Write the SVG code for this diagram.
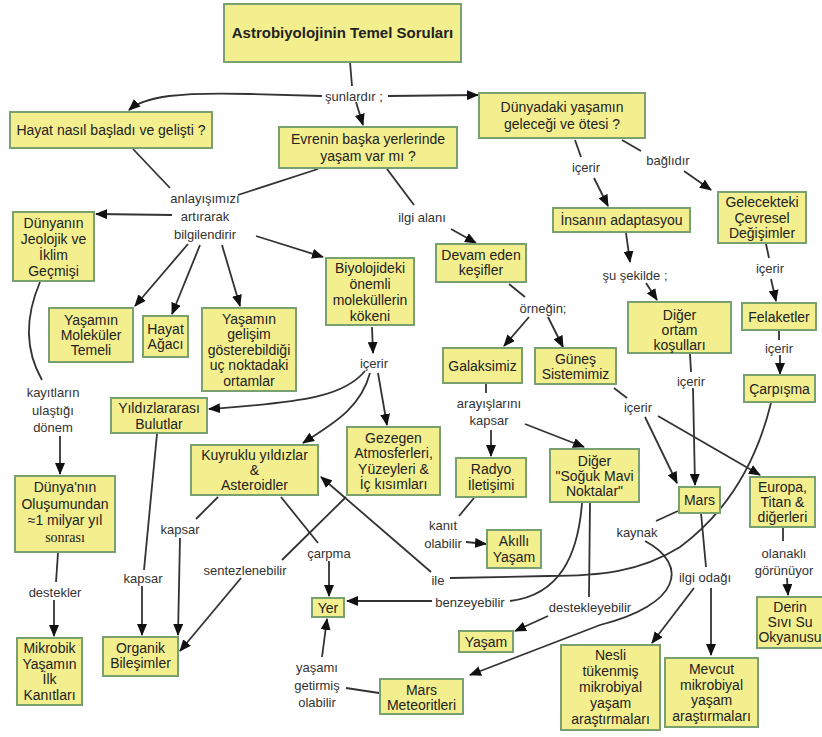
<svg xmlns="http://www.w3.org/2000/svg" width="822" height="737" viewBox="0 0 822 737">
<defs>
<marker id="ah" viewBox="0 0 12 10" refX="11" refY="5" markerWidth="12" markerHeight="10" orient="auto" markerUnits="userSpaceOnUse"><path d="M0,0 L12,5 L0,10 z" fill="#111"/></marker>
<style>
.n rect{fill:#f4ef8e;stroke:#79a06f;stroke-width:2}
.n text{font-family:"Liberation Sans",Arial,sans-serif;font-size:14px;fill:#222;text-anchor:middle}
.lb text{font-family:"Liberation Sans",Arial,sans-serif;font-size:13px;fill:#333;text-anchor:middle}
.c path{fill:none;stroke:#333;stroke-width:1.8}
.c path.a{marker-end:url(#ah)}
</style>
</defs>
<rect width="822" height="737" fill="#fff"/>
<g class="c">
<path d="M350,62 L352,86"/>
<path class="a" d="M322,96 L250,94 C180,92 145,96 129,110"/>
<path class="a" d="M388,96 L478,95"/>
<path class="a" d="M356,102 L363,125"/>
<path d="M133,149 L170,188"/>
<path d="M318,169 L238,195"/>
<path d="M387,169 L414,205"/>
<path class="a" d="M451,229 L476,243"/>
<path class="a" d="M172,215 L96,214"/>
<path class="a" d="M256,236 L323,257"/>
<path class="a" d="M188,244 L135,306"/>
<path class="a" d="M200,245 L172,314"/>
<path class="a" d="M222,245 L240,306"/>
<path d="M40,282 C28,310 22,345 42,380"/>
<path class="a" d="M60,436 L60,474"/>
<path d="M58,553 L56,582"/>
<path class="a" d="M54,600 L54,636"/>
<path class="a" d="M372,327 L373,353"/>
<path class="a" d="M365,371 C345,395 310,402 209,409"/>
<path class="a" d="M370,373 C360,410 330,425 303,443"/>
<path class="a" d="M378,373 L387,425"/>
<path d="M157,434 L144,570"/>
<path class="a" d="M142,586 L142,635"/>
<path d="M218,497 L196,519"/>
<path class="a" d="M180,538 L178,635"/>
<path d="M346,497 L282,560"/>
<path class="a" d="M241,578 L180,651"/>
<path d="M281,497 L318,543"/>
<path class="a" d="M329,561 L329,596"/>
<path class="a" d="M431,572 L321,477"/>
<path d="M771,403 C757,460 730,510 680,547 C640,572 600,576 548,576 L450,578"/>
<path d="M582,503 C578,555 560,595 510,601"/>
<path class="a" d="M432,601 L347,601"/>
<path d="M590,503 L589,597"/>
<path class="a" d="M548,616 L515,631"/>
<path d="M678,511 L656,521"/>
<path class="a" d="M645,541 C690,565 680,605 600,625 L470,675"/>
<path d="M701,513 L706,567"/>
<path class="a" d="M694,588 L652,643"/>
<path class="a" d="M711,588 L711,655"/>
<path d="M783,528 L783,541"/>
<path class="a" d="M787,578 L788,595"/>
<path class="a" d="M658,416 L760,475"/>
<path class="a" d="M645,417 L677,483"/>
<path d="M614,388 L627,398"/>
<path d="M690,354 L691,372"/>
<path class="a" d="M693,388 L695,485"/>
<path d="M779,331 L779,340"/>
<path class="a" d="M780,355 L780,374"/>
<path d="M766,244 L769,258"/>
<path class="a" d="M771,279 L776,301"/>
<path d="M622,140 L641,151"/>
<path class="a" d="M684,171 L711,190"/>
<path d="M575,140 L581,157"/>
<path class="a" d="M594,178 L608,206"/>
<path class="a" d="M626,233 L630,262"/>
<path class="a" d="M646,283 L657,300"/>
<path d="M509,284 L525,297"/>
<path class="a" d="M529,317 L504,346"/>
<path class="a" d="M548,317 L563,347"/>
<path d="M486,384 L486,393"/>
<path class="a" d="M491,430 L491,456"/>
<path class="a" d="M525,424 L584,447"/>
<path d="M474,498 L459,516"/>
<path class="a" d="M466,542 L486,544"/>
<path d="M379,693 L346,688"/>
<path class="a" d="M322,657 L327,619"/>
</g>
<g class="lb">
<text x="354" y="101">şunlardır ;</text>
<text x="205" y="203">anlayışımızı</text>
<text x="205" y="221">artırarak</text>
<text x="205" y="239">bilgilendirir</text>
<text x="422" y="222">ilgi alanı</text>
<text x="586" y="172">içerir</text>
<text x="668" y="165">bağlıdır</text>
<text x="635" y="280">şu şekilde ;</text>
<text x="770" y="273">içerir</text>
<text x="779" y="353">içerir</text>
<text x="543" y="313">örneğin;</text>
<text x="374" y="368">içerir</text>
<text x="691" y="386">içerir</text>
<text x="638" y="412">içerir</text>
<text x="489" y="408">arayışlarını</text>
<text x="489" y="425">kapsar</text>
<text x="53" y="397">kayıtların</text>
<text x="53" y="415">ulaştığı</text>
<text x="53" y="432">dönem</text>
<text x="180" y="534">kapsar</text>
<text x="143" y="583">kapsar</text>
<text x="245" y="575">sentezlenebilir</text>
<text x="329" y="558">çarpma</text>
<text x="55" y="597">destekler</text>
<text x="443" y="530">kanıt</text>
<text x="443" y="548">olabilir</text>
<text x="637" y="537">kaynak</text>
<text x="784" y="558">olanaklı</text>
<text x="784" y="575">görünüyor</text>
<text x="705" y="582">ilgi odağı</text>
<text x="590" y="612">destekleyebilir</text>
<text x="438" y="585">ile</text>
<text x="470" y="607">benzeyebilir</text>
<text x="317" y="672">yaşamı</text>
<text x="317" y="690">getirmiş</text>
<text x="317" y="707">olabilir</text>
</g>
<g id="n1" class="n"><rect x="224" y="4" width="237" height="58"/><text x="342.5" y="38" style="font-weight:bold;font-size:15px">Astrobiyolojinin Temel Soruları</text></g>
<g id="n2" class="n"><rect x="10" y="112" width="202" height="36"/><text x="111" y="135">Hayat nasıl başladı ve gelişti ?</text></g>
<g id="n3" class="n"><rect x="279" y="127" width="178" height="41"/><text x="368" y="144">Evrenin başka yerlerinde</text><text x="368" y="161">yaşam var mı ?</text></g>
<g id="n4" class="n"><rect x="479" y="93" width="166" height="45"/><text x="562" y="112">Dünyadaki yaşamın</text><text x="562" y="129">geleceği ve ötesi ?</text></g>
<g id="n5" class="n"><rect x="13" y="212" width="81" height="69"/><text x="53.5" y="227.5">Dünyanın</text><text x="53.5" y="243.5">Jeolojik ve</text><text x="53.5" y="259.5">İklim</text><text x="53.5" y="275.5">Geçmişi</text></g>
<g id="n6" class="n"><rect x="49" y="308" width="84" height="54"/><text x="91" y="325">Yaşamın</text><text x="91" y="340">Moleküler</text><text x="91" y="355">Temeli</text></g>
<g id="n7" class="n"><rect x="143" y="316" width="45" height="41"/><text x="165.5" y="334">Hayat</text><text x="165.5" y="349">Ağacı</text></g>
<g id="n8" class="n"><rect x="202" y="308" width="94" height="83"/><text x="249" y="323.5">Yaşamın</text><text x="249" y="339">gelişim</text><text x="249" y="354.5">gösterebildiği</text><text x="249" y="370">uç noktadaki</text><text x="249" y="385.5">ortamlar</text></g>
<g id="n9" class="n"><rect x="326" y="258" width="88" height="67"/><text x="370" y="272.5">Biyolojideki</text><text x="370" y="288.5">önemli</text><text x="370" y="304.5">moleküllerin</text><text x="370" y="320.5">kökeni</text></g>
<g id="n10" class="n"><rect x="436" y="244" width="90" height="38"/><text x="481" y="260">Devam eden</text><text x="481" y="275">keşifler</text></g>
<g id="n11" class="n"><rect x="553" y="208" width="137" height="24"/><text x="621.5" y="225">İnsanın adaptasyou</text></g>
<g id="n12" class="n"><rect x="718" y="192" width="88" height="51"/><text x="762" y="207">Gelecekteki</text><text x="762" y="222.5">Çevresel</text><text x="762" y="238">Değişimler</text></g>
<g id="n13" class="n"><rect x="628" y="302" width="103" height="51"/><text x="679.5" y="320">Diğer</text><text x="679.5" y="335">ortam</text><text x="679.5" y="350">koşulları</text></g>
<g id="n14" class="n"><rect x="742" y="303" width="74" height="27"/><text x="779" y="321.5">Felaketler</text></g>
<g id="n15" class="n"><rect x="443" y="348" width="79" height="35"/><text x="482.5" y="370.5">Galaksimiz</text></g>
<g id="n16" class="n"><rect x="535" y="348" width="81" height="36"/><text x="575.5" y="363.5">Güneş</text><text x="575.5" y="379">Sistemimiz</text></g>
<g id="n17" class="n"><rect x="744" y="375" width="71" height="27"/><text x="779.5" y="393.5">Çarpışma</text></g>
<g id="n18" class="n"><rect x="111" y="398" width="96" height="35"/><text x="159" y="413">Yıldızlararası</text><text x="159" y="429">Bulutlar</text></g>
<g id="n19" class="n"><rect x="191" y="445" width="127" height="50"/><text x="254.5" y="460">Kuyruklu yıldızlar</text><text x="254.5" y="475">&amp;</text><text x="254.5" y="490">Asteroidler</text></g>
<g id="n20" class="n"><rect x="347" y="427" width="93" height="68"/><text x="393.5" y="442.5">Gezegen</text><text x="393.5" y="458">Atmosferleri,</text><text x="393.5" y="473.5">Yüzeyleri &amp;</text><text x="393.5" y="489">İç kısımları</text></g>
<g id="n21" class="n"><rect x="456" y="458" width="70" height="39"/><text x="491" y="474">Radyo</text><text x="491" y="490">İletişimi</text></g>
<g id="n22" class="n"><rect x="550" y="449" width="89" height="53"/><text x="594.5" y="465.5">Diğer</text><text x="594.5" y="480.5">"Soğuk Mavi</text><text x="594.5" y="495.5">Noktalar"</text></g>
<g id="n23" class="n"><rect x="679" y="487" width="41" height="26"/><text x="699.5" y="505">Mars</text></g>
<g id="n24" class="n"><rect x="750" y="477" width="65" height="50"/><text x="782.5" y="491.5">Europa,</text><text x="782.5" y="506.5">Titan &amp;</text><text x="782.5" y="521.5">diğerleri</text></g>
<g id="n25" class="n"><rect x="15" y="476" width="100" height="76"/><text x="65" y="492">Dünya'nın</text><text x="65" y="508.5">Oluşumundan</text><text x="65" y="525">≈1 milyar yıl</text><text x="65" y="542" style="font-family:'Liberation Serif',serif">sonrası</text></g>
<g id="n26" class="n"><rect x="487" y="530" width="54" height="38"/><text x="514" y="545.5">Akıllı</text><text x="514" y="561.5">Yaşam</text></g>
<g id="n27" class="n"><rect x="17" y="638" width="65" height="67"/><text x="49.5" y="653">Mikrobik</text><text x="49.5" y="668.5">Yaşamın</text><text x="49.5" y="684">İlk</text><text x="49.5" y="699.5">Kanıtları</text></g>
<g id="n28" class="n"><rect x="103" y="637" width="75" height="39"/><text x="140.5" y="653">Organik</text><text x="140.5" y="668">Bileşimler</text></g>
<g id="n29" class="n"><rect x="312" y="598" width="32" height="19"/><text x="328" y="612.5">Yer</text></g>
<g id="n30" class="n"><rect x="459" y="631" width="54" height="21"/><text x="486" y="646.5">Yaşam</text></g>
<g id="n31" class="n"><rect x="380" y="679" width="83" height="35"/><text x="421.5" y="695">Mars</text><text x="421.5" y="710">Meteoritleri</text></g>
<g id="n32" class="n"><rect x="561" y="645" width="99" height="85"/><text x="610.5" y="660">Nesli</text><text x="610.5" y="676">tükenmiş</text><text x="610.5" y="692">mikrobiyal</text><text x="610.5" y="708">yaşam</text><text x="610.5" y="724">araştırmaları</text></g>
<g id="n33" class="n"><rect x="665" y="658" width="93" height="69"/><text x="711.5" y="674">Mevcut</text><text x="711.5" y="689.5">mikrobiyal</text><text x="711.5" y="705">yaşam</text><text x="711.5" y="720.5">araştırmaları</text></g>
<g id="n34" class="n"><rect x="757" y="597" width="72" height="51"/><text x="790" y="611.5">Derin</text><text x="790" y="626.5">Sıvı Su</text><text x="790" y="641.5">Okyanusu</text></g>
</svg>
